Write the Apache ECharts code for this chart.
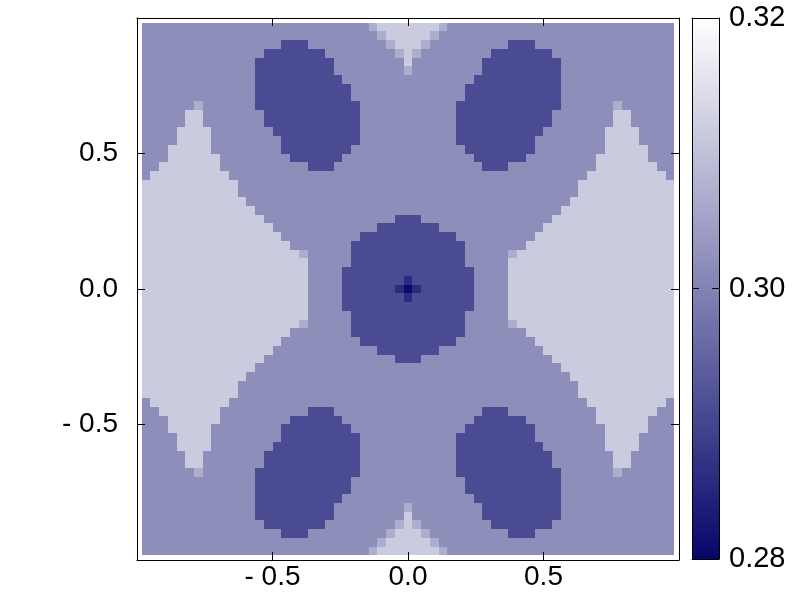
<!DOCTYPE html>
<html>
<head>
<meta charset="utf-8">
<title>heatmap</title>
<script src="https://cdn.jsdelivr.net/npm/echarts@6/dist/echarts.min.js"></script>
<style>
  html, body { margin: 0; padding: 0; background: #fff; }
  #main { width: 800px; height: 600px; }
</style>
</head>
<body>
<div id="main"></div>
<script>
  // colour scale ends
  const paletteLow = '#06066a'
  const paletteHigh = '#ffffff'
  const valueMin = 0.28
  const valueMax = 0.32
  const cbTicks = 0.02

  // value of each plateau
  const levelValues = { N: 0.281, n: 0.286, D: 0.2911, M: 0.3018, l: 0.3068, L: 0.3117 }

  // cell grid: 61 x 61, covering +-0.983
  const gridSize = 61
  const gridExtent = 0.983

  // rows from top (y = +1) to bottom, run-length coded: count + level letter
  const rows = [
    '26M 1l 7L 1l 26M',
    '27M 1l 5L 1l 27M',
    '16M 3D 9M 1l 3L 1l 9M 3D 16M',
    '14M 7D 8M 1l 1L 1l 8M 7D 14M',
    '13M 9D 8M 1L 8M 9D 13M',
    '13M 9D 8M 1l 8M 9D 13M',
    '13M 10D 15M 10D 13M',
    '13M 11D 13M 11D 13M',
    '13M 11D 13M 11D 13M',
    '6M 1l 6M 12D 11M 12D 6M 1l 6M',
    '5M 2L 7M 11D 11M 11D 7M 2L 5M',
    '5M 2L 7M 11D 11M 11D 7M 2L 5M',
    '4M 4L 7M 10D 11M 10D 7M 4L 4M',
    '4M 4L 8M 9D 11M 9D 8M 4L 4M',
    '3M 5L 8M 8D 13M 8D 8M 5L 3M',
    '3M 6L 8M 6D 15M 6D 8M 6L 3M',
    '2M 7L 10M 3D 17M 3D 10M 7L 2M',
    '1M 9L 41M 9L 1M',
    '11L 39M 11L',
    '11L 39M 11L',
    '12L 37M 12L',
    '13L 35M 13L',
    '14L 15M 3D 15M 14L',
    '15L 12M 7D 12M 15L',
    '16L 9M 11D 9M 16L',
    '17L 7M 13D 7M 17L',
    '18L 1l 5M 13D 5M 1l 18L',
    '19L 5M 13D 5M 19L',
    '19L 4M 15D 4M 19L',
    '19L 4M 7D 1n 7D 4M 19L',
    '19L 4M 6D 1n 1N 1n 6D 4M 19L',
    '19L 4M 7D 1n 7D 4M 19L',
    '19L 4M 15D 4M 19L',
    '19L 5M 13D 5M 19L',
    '18L 1l 5M 13D 5M 1l 18L',
    '17L 7M 13D 7M 17L',
    '16L 9M 11D 9M 16L',
    '15L 12M 7D 12M 15L',
    '14L 15M 3D 15M 14L',
    '13L 35M 13L',
    '12L 37M 12L',
    '11L 39M 11L',
    '11L 39M 11L',
    '1M 9L 41M 9L 1M',
    '2M 7L 10M 3D 17M 3D 10M 7L 2M',
    '3M 6L 8M 6D 15M 6D 8M 6L 3M',
    '3M 5L 8M 8D 13M 8D 8M 5L 3M',
    '4M 4L 8M 9D 11M 9D 8M 4L 4M',
    '4M 4L 7M 10D 11M 10D 7M 4L 4M',
    '5M 2L 7M 11D 11M 11D 7M 2L 5M',
    '5M 2L 7M 11D 11M 11D 7M 2L 5M',
    '6M 1l 6M 12D 11M 12D 6M 1l 6M',
    '13M 11D 13M 11D 13M',
    '13M 11D 13M 11D 13M',
    '13M 10D 15M 10D 13M',
    '13M 9D 8M 1l 8M 9D 13M',
    '13M 9D 8M 1L 8M 9D 13M',
    '14M 7D 8M 1l 1L 1l 8M 7D 14M',
    '16M 3D 9M 1l 3L 1l 9M 3D 16M',
    '27M 1l 5L 1l 27M',
    '26M 1l 7L 1l 26M'
  ]

  const cell = 2 * gridExtent / gridSize
  const half = cell / 2

  // decode rows into [x, y, value]
  const cells = []
  rows.forEach(function (row, r) {
    let c = 0
    row.split(' ').forEach(function (tok) {
      const n = parseInt(tok, 10)
      const v = levelValues[tok.slice(-1)]
      for (let k = 0; k < n; k++) {
        cells.push([-gridExtent + (c + 0.5) * cell, gridExtent - (r + 0.5) * cell, v])
        c++
      }
    })
  })

  const font = "'Liberation Sans', Arial, sans-serif"
  const black = { color: '#000', width: 1 }

  function tickLabel(v) {
    return v < 0 ? '- ' + (-v).toFixed(1) : v.toFixed(1)
  }

  // one axis of the main frame
  function frameAxis(pos, labels) {
    const vertical = pos === 'left' || pos === 'right'
    return {
      gridIndex: 0,
      type: 'value',
      position: pos,
      min: -1,
      max: 1,
      interval: 0.5,
      z: 10,
      axisLine: { show: true, onZero: false, lineStyle: black },
      axisTick: { show: true, inside: true, length: 8, lineStyle: black },
      splitLine: { show: false },
      axisLabel: {
        show: labels,
        formatter: tickLabel,
        showMinLabel: false,
        showMaxLabel: false,
        color: '#000',
        fontFamily: font,
        fontSize: 28,
        margin: vertical ? 19 : 3,
        padding: vertical ? [0, 0, 12, 0] : 0
      }
    }
  }

  // axes of the colour bar
  function barAxis(pos, isY, labels) {
    return {
      gridIndex: 1,
      type: 'value',
      position: pos,
      min: isY ? valueMin : 0,
      max: isY ? valueMax : 1,
      interval: isY ? cbTicks : 1,
      z: 10,
      axisLine: { show: true, onZero: false, lineStyle: black },
      axisTick: { show: isY, inside: true, length: 7, lineStyle: black },
      splitLine: { show: false },
      axisLabel: {
        show: labels,
        formatter: function (v) { return v.toFixed(2) },
        color: '#000',
        fontFamily: font,
        fontSize: 29,
        margin: 10,
        padding: [0, 0, 12, 0]
      }
    }
  }

  const chart = echarts.init(document.getElementById('main'), null, { renderer: 'canvas' })

  chart.setOption({
    animation: false,
    backgroundColor: '#fff',
    grid: [
      { left: 137, top: 18, width: 542, height: 542 },
      { left: 692, top: 18, width: 27, height: 541 }
    ],
    xAxis: [
      frameAxis('bottom', true),
      frameAxis('top', false),
      barAxis('bottom', false, false),
      barAxis('top', false, false)
    ],
    yAxis: [
      frameAxis('left', true),
      frameAxis('right', false),
      barAxis('left', true, false),
      barAxis('right', true, true)
    ],
    visualMap: {
      show: false,
      type: 'continuous',
      seriesIndex: 0,
      dimension: 2,
      min: valueMin,
      max: valueMax,
      inRange: { color: [paletteLow, paletteHigh] }
    },
    series: [
      {
        type: 'custom',
        xAxisIndex: 0,
        yAxisIndex: 0,
        progressive: 0,
        data: cells,
        renderItem: function (params, api) {
          const x = api.value(0)
          const y = api.value(1)
          const p0 = api.coord([x - half, y + half])
          const p1 = api.coord([x + half, y - half])
          // snap to whole pixels so neighbouring cells leave no seams
          const x0 = Math.round(p0[0])
          const y0 = Math.round(p0[1])
          return {
            type: 'rect',
            shape: { x: x0, y: y0, width: Math.round(p1[0]) - x0, height: Math.round(p1[1]) - y0 },
            style: { fill: api.visual('color') }
          }
        }
      },
      {
        // colour bar body
        type: 'custom',
        xAxisIndex: 2,
        yAxisIndex: 2,
        data: [[0.5, (valueMin + valueMax) / 2]],
        renderItem: function (params, api) {
          const p0 = api.coord([0, valueMax])
          const p1 = api.coord([1, valueMin])
          return {
            type: 'rect',
            shape: { x: p0[0], y: p0[1], width: p1[0] - p0[0], height: p1[1] - p0[1] },
            style: {
              fill: new echarts.graphic.LinearGradient(0, 0, 0, 1, [
                { offset: 0, color: paletteHigh },
                { offset: 1, color: paletteLow }
              ])
            }
          }
        }
      }
    ]
  })
</script>
</body>
</html>
